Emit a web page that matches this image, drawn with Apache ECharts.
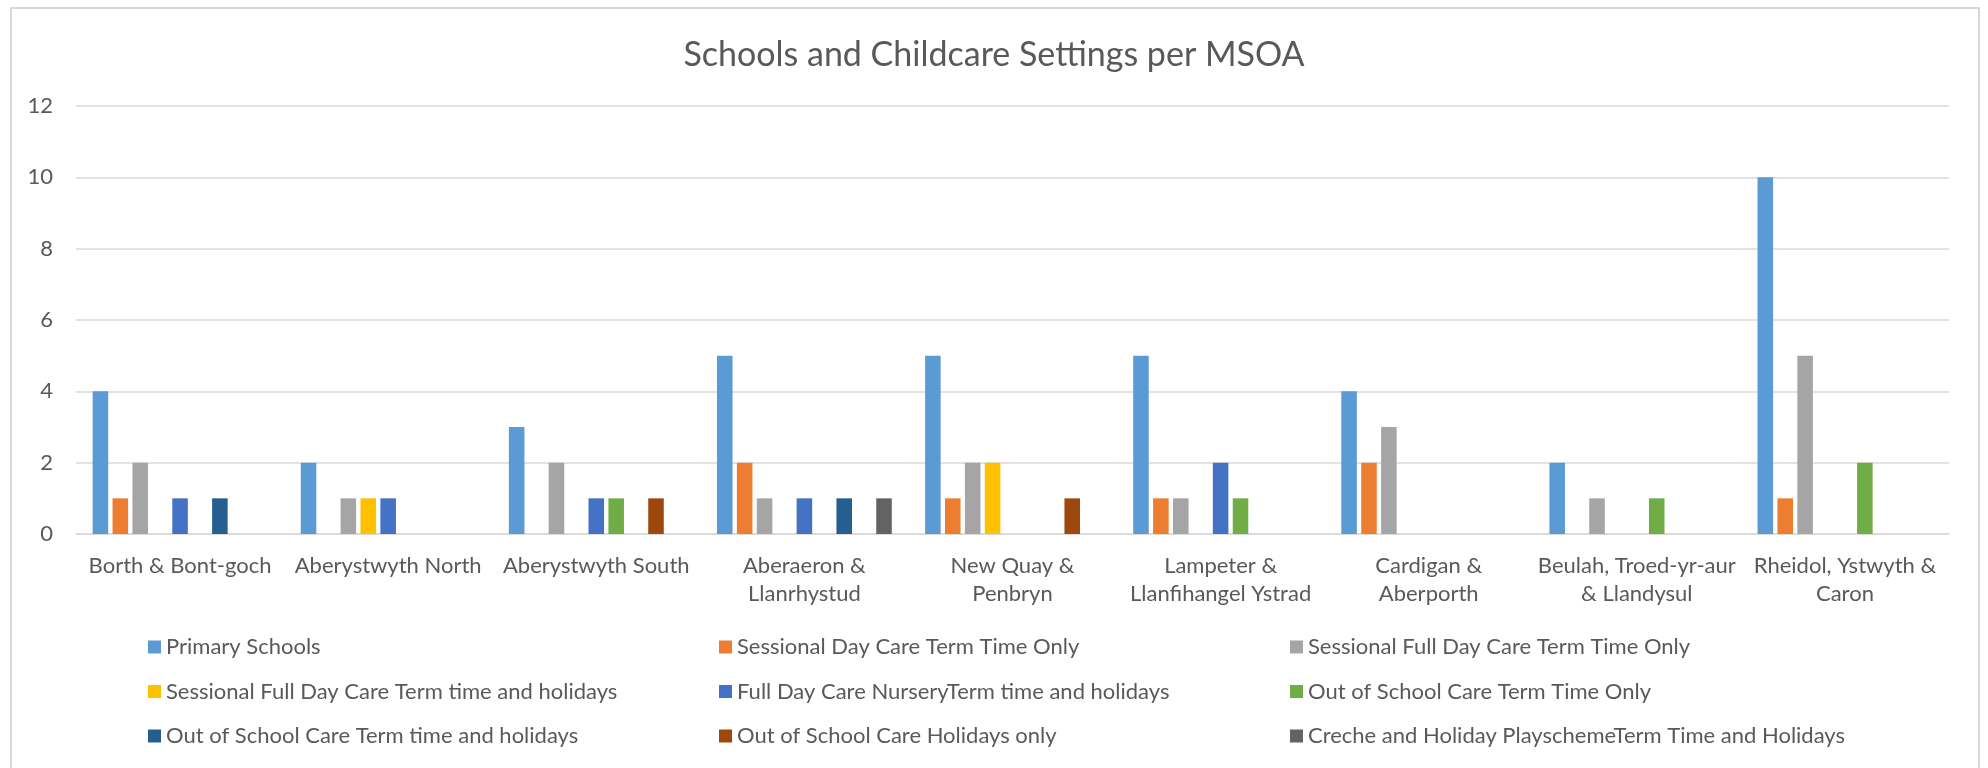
<!DOCTYPE html>
<html>
<head>
<meta charset="utf-8">
<title>Schools and Childcare Settings per MSOA</title>
<script src="https://cdn.jsdelivr.net/npm/echarts@6/dist/echarts.min.js"></script>
<style>
  html, body { margin: 0; padding: 0; background: #ffffff; }
  #chart { width: 1988px; height: 768px; }
</style>
</head>
<body>
<div id="chart"></div>
<script>
// MSOA names (two-line names wrap the way they appear under the axis)
const categories = [
  'Borth & Bont-goch',
  'Aberystwyth North',
  'Aberystwyth South',
  'Aberaeron &\nLlanrhystud',
  'New Quay &\nPenbryn',
  'Lampeter &\nLlanfihangel Ystrad',
  'Cardigan &\nAberporth',
  'Beulah, Troed-yr-aur\n& Llandysul',
  'Rheidol, Ystwyth &\nCaron'
];

const seriesNames = [
  'Primary Schools',
  'Sessional Day Care Term Time Only',
  'Sessional Full Day Care Term Time Only',
  'Sessional Full Day Care Term time and holidays',
  'Full Day Care NurseryTerm time and holidays',
  'Out of School Care Term Time Only',
  'Out of School Care Term time and holidays',
  'Out of School Care Holidays only',
  'Creche and Holiday PlayschemeTerm Time and Holidays'
];

// Counts per MSOA, one array per setting type
const primarySchools         = [4, 2, 3, 5, 5, 5, 4, 2, 10];
const sessionalDayTermOnly   = [1, 0, 0, 2, 1, 1, 2, 0, 1];
const sessionalFullTermOnly  = [2, 1, 2, 1, 2, 1, 3, 1, 5];
const sessionalFullTermHols  = [0, 1, 0, 0, 2, 0, 0, 0, 0];
const fullDayNursery         = [1, 1, 1, 1, 0, 2, 0, 0, 0];
const outOfSchoolTermOnly    = [0, 0, 1, 0, 0, 1, 0, 1, 2];
const outOfSchoolTermHols    = [1, 0, 0, 1, 0, 0, 0, 0, 0];
const outOfSchoolHolsOnly    = [0, 0, 1, 0, 1, 0, 0, 0, 0];
const crecheHolidayScheme    = [0, 0, 0, 1, 0, 0, 0, 0, 0];

const yTicks = [0, 2, 4, 6, 8, 10, 12];

const seriesValues = [
  primarySchools, sessionalDayTermOnly, sessionalFullTermOnly,
  sessionalFullTermHols, fullDayNursery, outOfSchoolTermOnly,
  outOfSchoolTermHols, outOfSchoolHolsOnly, crecheHolidayScheme
];

const palette = [
  '#5B9BD5', '#ED7D31', '#A5A5A5', '#FFC000', '#4472C4',
  '#70AD47', '#255E91', '#9E480E', '#636363'
];

const FONT = 'Lato, "Liberation Sans", sans-serif';
const TEXT_COLOR = '#595959';
const GRID_COLOR = '#d9d9d9';

const chart = echarts.init(document.getElementById('chart'), null, { renderer: 'canvas' });

// zero values are plotted as null so no sliver is drawn
const series = seriesNames.map((name, i) => ({
  name: name,
  type: 'bar',
  data: seriesValues[i].map(v => (v === 0 ? null : v)),
  itemStyle: { color: palette[i] },
  barGap: '28%',
  barCategoryGap: '16%'
}));

// legend laid out as three columns of three entries
const legendColumns = [
  [seriesNames[0], seriesNames[3], seriesNames[6]],
  [seriesNames[1], seriesNames[4], seriesNames[7]],
  [seriesNames[2], seriesNames[5], seriesNames[8]]
];
const legendLefts = [148, 719, 1290];
const legends = legendColumns.map((col, i) => ({
  data: col,
  orient: 'vertical',
  left: legendLefts[i],
  top: 635,
  padding: 0,
  itemWidth: 13,
  itemHeight: 13,
  itemGap: 20.5,
  icon: 'rect',
  selectedMode: false,
  textStyle: { fontFamily: FONT, fontSize: 22, color: TEXT_COLOR, lineHeight: 24 }
}));

chart.setOption({
  animation: false,
  backgroundColor: '#ffffff',
  color: palette,
  title: {
    text: 'Schools and Childcare Settings per MSOA',
    left: 'center',
    top: 33,
    textStyle: { fontFamily: FONT, fontSize: 34, fontWeight: 'normal', color: TEXT_COLOR }
  },
  graphic: [{
    type: 'rect',
    shape: { x: 11, y: 8, width: 1968, height: 800 },
    style: { fill: 'none', stroke: GRID_COLOR, lineWidth: 2 },
    silent: true,
    z: -1
  }],
  legend: legends,
  grid: { left: 76, right: 39, top: 106, bottom: 234, containLabel: false },
  xAxis: {
    type: 'category',
    data: categories,
    axisTick: { show: false },
    axisLine: { show: true, lineStyle: { color: GRID_COLOR, width: 1.5 } },
    axisLabel: {
      interval: 0,
      margin: 18,
      fontFamily: FONT,
      fontSize: 22,
      lineHeight: 28,
      color: TEXT_COLOR,
      verticalAlign: 'top'
    }
  },
  yAxis: {
    type: 'value',
    min: yTicks[0],
    max: yTicks[yTicks.length - 1],
    interval: yTicks[1] - yTicks[0],
    axisLine: { show: false },
    axisTick: { show: false },
    splitLine: { lineStyle: { color: GRID_COLOR, width: 1.5 } },
    axisLabel: {
      margin: 23,
      fontFamily: FONT,
      fontSize: 22,
      color: TEXT_COLOR
    }
  },
  series: series
});
</script>
</body>
</html>
